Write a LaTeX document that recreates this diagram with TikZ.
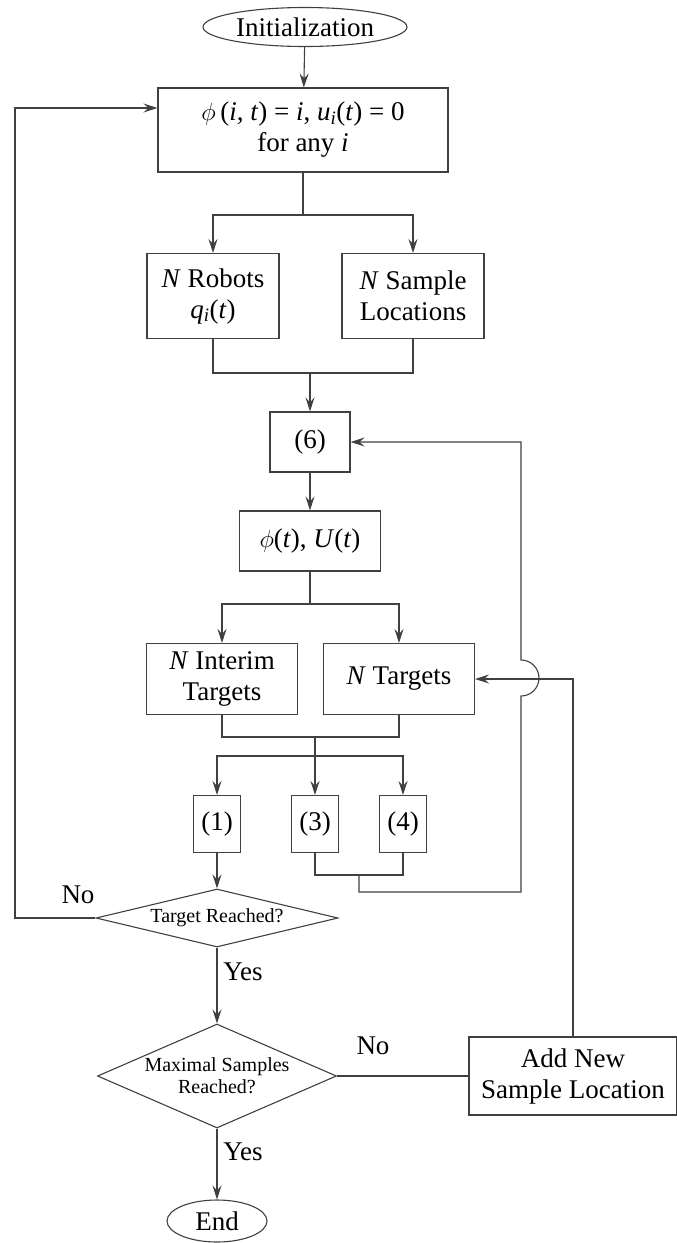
\documentclass[tikz,border=0pt]{standalone}
\usepackage{fontspec}
\setmainfont{Liberation Serif}
\usetikzlibrary{shapes.geometric,arrows.meta}

\begin{document}
\begin{tikzpicture}[x=1pt,y=-1pt,line width=1.1pt,draw=black!75,
  >={Stealth[length=14pt,width=9pt,inset=5pt]}]
\useasboundingbox (0,0) rectangle (677,1243);
\tikzstyle{every node}=[draw=black!75,shape=rectangle,align=center,inner sep=0pt,font=\fontsize{27}{31}\selectfont];
\tikzstyle{term}=[shape=ellipse];
\tikzstyle{test}=[shape=diamond,font=\fontsize{20}{22}\selectfont];
\node[term,minimum width=204pt,minimum height=39pt] (init) at (305,27) {Initialization};
\node[minimum width=290pt,minimum height=84pt] (setup) at (303,130) {$\phi$\,(\textit{i}, \textit{t}) = \textit{i}, \textit{u}\textsubscript{\textit{i}}(\textit{t}) = 0\\for any \textit{i}};
\node[minimum width=132pt,minimum height=85pt] (robots) at (213,296) {\textit{N} Robots\\\textit{q}\textsubscript{\textit{i}}(\textit{t})};
\node[minimum width=142pt,minimum height=85pt] (samples) at (413,296) {\textit{N} Sample\\Locations};
\node[minimum width=80pt,minimum height=60pt] (eq6) at (310,442) {(6)};
\node[minimum width=141pt,minimum height=60pt] (phiu) at (310,541) {$\phi$(\textit{t}), \textit{U}(\textit{t})};
\node[minimum width=151pt,minimum height=71pt] (interim) at (222,679) {\textit{N} Interim\\Targets};
\node[minimum width=151pt,minimum height=71pt] (targets) at (399,679) {\textit{N} Targets};
\node[minimum width=47pt,minimum height=57pt] (eq1) at (217,824) {(1)};
\node[minimum width=47pt,minimum height=57pt] (eq3) at (315,824) {(3)};
\node[minimum width=47pt,minimum height=57pt] (eq4) at (403,824) {(4)};
\node[test,aspect=4.2,minimum width=242pt,minimum height=58pt] (reach) at (217,918) {Target Reached?};
\node[test,aspect=2.3,minimum width=239pt,minimum height=104pt] (maxs) at (217,1076) {Maximal Samples\\Reached?};
\node[minimum width=208pt,minimum height=78pt] (addnew) at (573,1076) {Add New\\Sample Location};
\node[term,minimum width=100pt,minimum height=42pt] (end) at (217,1221) {End};
\tikzstyle{every node}=[font=\fontsize{27}{31}\selectfont];
\node (no1) at (78,895) {No};
\node (yes1) at (243,972) {Yes};
\node (no2) at (373,1046) {No};
\node (yes2) at (243,1152) {Yes};
\coordinate (s1) at (303,215);
\coordinate (j1) at (310,373);
\coordinate (s2) at (310,604);
\coordinate (j2) at (315,737);
\coordinate (s3) at (315,756);
\coordinate (j3) at (359,875);
\coordinate (c4) at (521,892);
\coordinate (fb) at (15,108);
\draw[->] (init) -- (setup);
\draw (setup.south) -- (s1);
\draw[->] (s1) -| (robots);
\draw[->] (s1) -| (samples);
\draw (robots.south) |- (j1) -| (samples.south);
\draw[->] (j1) -- (eq6);
\draw[->] (eq6) -- (phiu);
\draw (phiu) -- (s2);
\draw[->] (s2) -| (interim);
\draw[->] (s2) -| (targets);
\draw (interim.south) |- (j2) -| (targets.south);
\draw[->] (j2) -- (eq3);
\draw[->] (s3) -| (eq1);
\draw[->] (s3) -| (eq4);
\draw (eq3.south) |- (j3) -| (eq4.south);
\draw[->] (j3) |- (c4) -- (521,696) arc[start angle=90,end angle=-90,radius=18] |- (eq6.east);
\draw[->] (eq1) -- (reach);
\draw[->] (reach.west) -| (fb) -- (fb -| setup.west);
\draw[->] (reach) -- (maxs);
\draw (maxs) -- (addnew);
\draw[->] (addnew) |- (targets);
\draw[->] (maxs) -- (end);
\end{tikzpicture}
\end{document}
